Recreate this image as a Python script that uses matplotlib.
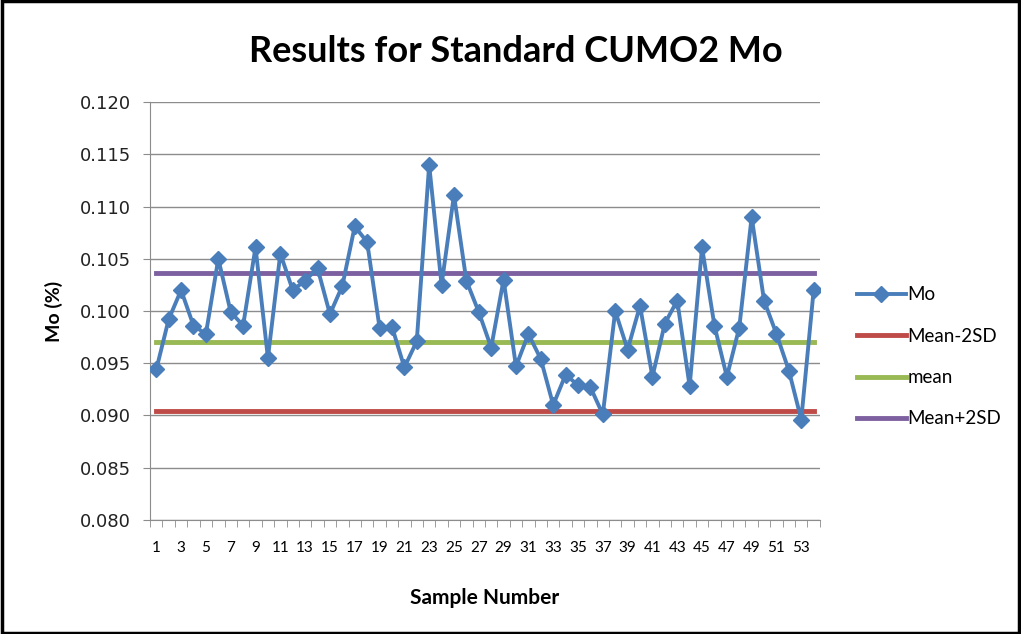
import matplotlib
matplotlib.use("Agg")
import matplotlib.pyplot as plt
import numpy as np
from matplotlib.patches import Rectangle

# sample values (Mo %)
mo = [0.0944, 0.0992, 0.1020, 0.0986, 0.0978, 0.1050, 0.0999, 0.0986, 0.1061, 0.0955,
      0.1055, 0.1020, 0.1029, 0.1041, 0.0997, 0.1024, 0.1081, 0.1066, 0.0984, 0.0985,
      0.0946, 0.0971, 0.1140, 0.1025, 0.1111, 0.1029, 0.0999, 0.0965, 0.1030, 0.0947,
      0.0978, 0.0954, 0.0910, 0.0939, 0.0929, 0.0927, 0.0901, 0.1000, 0.0963, 0.1005,
      0.0937, 0.0988, 0.1010, 0.0928, 0.1061, 0.0986, 0.0937, 0.0984, 0.1090, 0.1010,
      0.0978, 0.0943, 0.0896, 0.1020]
mean_val = 0.0970
lower_val = 0.0904   # Mean-2SD
upper_val = 0.1036   # Mean+2SD

samples = np.arange(1, len(mo) + 1)

plt.rcParams['font.family'] = ['Lato', 'DejaVu Sans']

fig = plt.figure(figsize=(10.21, 6.34), dpi=100)
ax = fig.add_axes([0.147, 0.180, 0.656, 0.659])

ax.plot(samples, mo, color="#4A7EBB", lw=2.8, marker="D", ms=8, label="Mo", zorder=4)
ax.plot(samples, [lower_val] * len(samples), color="#BE4B48", lw=3.5, label="Mean-2SD", zorder=3)
ax.plot(samples, [mean_val] * len(samples), color="#98B954", lw=3.5, label="mean", zorder=3)
ax.plot(samples, [upper_val] * len(samples), color="#7D60A0", lw=3.5, label="Mean+2SD", zorder=3)

yt = np.arange(0.080, 0.1201, 0.005)
ax.set_ylim(0.080, 0.120)
ax.set_yticks(yt)
ax.set_yticklabels(["%.3f" % v for v in yt], fontsize=13, family="DejaVu Sans", color="#222222")
ax.yaxis.grid(True, color="#8c8c8c", lw=1)
ax.set_axisbelow(True)

ax.set_xlim(0.5, len(mo) + 0.5)
ax.set_xticks(samples[::2])
ax.set_xticklabels([str(s) for s in samples[::2]], fontsize=11)
ax.set_xticks(np.arange(0.5, len(mo) + 1, 1), minor=True)
ax.tick_params(axis="x", which="major", length=0, pad=15)
ax.tick_params(axis="x", which="minor", length=5, color="#8c8c8c")
ax.tick_params(axis="y", length=5, color="#8c8c8c", pad=9)

for side in ["top", "right"]:
    ax.spines[side].set_visible(False)
for side in ["left", "bottom"]:
    ax.spines[side].set_color("#8c8c8c")

# title is centred on the whole chart, not on the plot area
fig.text(0.505, 0.918, "Results for Standard CUMO2 Mo", fontsize=26, fontweight="bold",
         ha="center", va="center")
ax.set_ylabel("Mo (%)", fontsize=14, fontweight="bold", labelpad=12)
ax.set_xlabel("Sample Number", fontsize=15, fontweight="bold", labelpad=24)

ax.legend(loc="center left", bbox_to_anchor=(1.03, 0.39), frameon=False, fontsize=13.5,
          labelspacing=1.3, handlelength=2.6, handletextpad=0.1)

fig.patches.append(Rectangle((0.002, 0.002), 0.996, 0.996, transform=fig.transFigure,
                             fill=False, edgecolor="black", lw=2.5))

fig.savefig("out.png", dpi=100)
